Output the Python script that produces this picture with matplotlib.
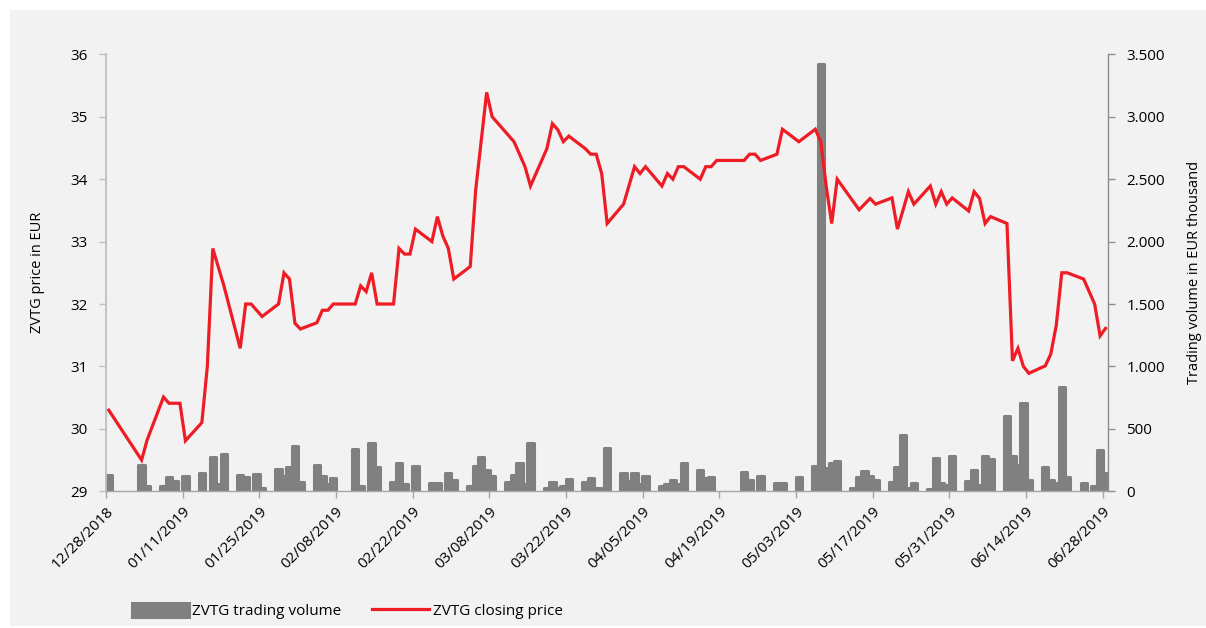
import matplotlib
matplotlib.use("Agg")
import matplotlib.pyplot as plt
import matplotlib.dates as mdates
from matplotlib.patches import Rectangle
from matplotlib.ticker import FuncFormatter
import datetime as dt

plt.rcParams['font.family'] = ['Open Sans', 'DejaVu Sans']

# closing price (EUR)
price_dates = ["2018-12-28", "2019-01-03", "2019-01-04", "2019-01-07", "2019-01-08", "2019-01-10",
               "2019-01-11", "2019-01-14", "2019-01-15", "2019-01-16", "2019-01-18", "2019-01-21",
               "2019-01-22", "2019-01-23", "2019-01-25", "2019-01-28", "2019-01-29", "2019-01-30",
               "2019-01-31", "2019-02-01", "2019-02-04", "2019-02-05", "2019-02-06", "2019-02-07",
               "2019-02-11", "2019-02-12", "2019-02-13", "2019-02-14", "2019-02-15", "2019-02-18",
               "2019-02-19", "2019-02-20", "2019-02-21", "2019-02-22", "2019-02-25", "2019-02-26",
               "2019-02-27", "2019-02-28", "2019-03-01", "2019-03-04", "2019-03-05", "2019-03-07",
               "2019-03-08", "2019-03-12", "2019-03-14", "2019-03-15", "2019-03-18", "2019-03-19",
               "2019-03-20", "2019-03-21", "2019-03-22", "2019-03-25", "2019-03-26", "2019-03-27",
               "2019-03-28", "2019-03-29", "2019-04-01", "2019-04-03", "2019-04-04", "2019-04-05",
               "2019-04-08", "2019-04-09", "2019-04-10", "2019-04-11", "2019-04-12", "2019-04-15",
               "2019-04-16", "2019-04-17", "2019-04-18", "2019-04-23", "2019-04-24", "2019-04-25",
               "2019-04-26", "2019-04-29", "2019-04-30", "2019-05-03", "2019-05-06", "2019-05-07",
               "2019-05-08", "2019-05-09", "2019-05-10", "2019-05-14", "2019-05-16", "2019-05-17",
               "2019-05-20", "2019-05-21", "2019-05-23", "2019-05-24", "2019-05-27", "2019-05-28",
               "2019-05-29", "2019-05-30", "2019-05-31", "2019-06-03", "2019-06-04", "2019-06-05",
               "2019-06-06", "2019-06-07", "2019-06-10", "2019-06-11", "2019-06-12", "2019-06-13",
               "2019-06-14", "2019-06-17", "2019-06-18", "2019-06-19", "2019-06-20", "2019-06-21",
               "2019-06-24", "2019-06-26", "2019-06-27", "2019-06-28"]
price = [30.30, 29.50, 29.82, 30.51, 30.41, 30.41,
         29.81, 30.10, 31.00, 32.89, 32.30, 31.29,
         32.00, 32.00, 31.80, 32.00, 32.50, 32.40,
         31.69, 31.60, 31.70, 31.90, 31.90, 32.00,
         32.00, 32.29, 32.20, 32.50, 32.00, 32.00,
         32.89, 32.80, 32.80, 33.20, 33.00, 33.40,
         33.09, 32.89, 32.40, 32.60, 33.83, 35.39,
         35.00, 34.60, 34.20, 33.89, 34.49, 34.89,
         34.79, 34.60, 34.69, 34.49, 34.40, 34.40,
         34.09, 33.29, 33.60, 34.20, 34.09, 34.20,
         33.89, 34.09, 34.00, 34.20, 34.20, 34.00,
         34.20, 34.20, 34.30, 34.30, 34.40, 34.40,
         34.30, 34.40, 34.80, 34.60, 34.80, 34.60,
         33.88, 33.29, 34.00, 33.51, 33.69, 33.60,
         33.70, 33.20, 33.80, 33.60, 33.89, 33.60,
         33.80, 33.60, 33.70, 33.49, 33.80, 33.69,
         33.29, 33.40, 33.29, 31.09, 31.29, 31.00,
         30.89, 31.01, 31.20, 31.66, 32.50, 32.50,
         32.40, 32.00, 31.49, 31.61]

# trading volume (EUR thousand)
vol_dates = ["2018-12-28", "2019-01-03", "2019-01-04", "2019-01-07", "2019-01-08", "2019-01-09",
             "2019-01-11", "2019-01-14", "2019-01-16", "2019-01-17", "2019-01-18", "2019-01-21",
             "2019-01-22", "2019-01-24", "2019-01-25", "2019-01-28", "2019-01-29", "2019-01-30",
             "2019-01-31", "2019-02-01", "2019-02-04", "2019-02-05", "2019-02-06", "2019-02-07",
             "2019-02-11", "2019-02-12", "2019-02-14", "2019-02-15", "2019-02-18", "2019-02-19",
             "2019-02-20", "2019-02-22", "2019-02-25", "2019-02-26", "2019-02-28", "2019-03-01",
             "2019-03-04", "2019-03-05", "2019-03-06", "2019-03-07", "2019-03-08", "2019-03-11",
             "2019-03-12", "2019-03-13", "2019-03-14", "2019-03-15", "2019-03-18", "2019-03-19",
             "2019-03-20", "2019-03-21", "2019-03-22", "2019-03-25", "2019-03-26", "2019-03-27",
             "2019-03-28", "2019-03-29", "2019-04-01", "2019-04-02", "2019-04-03", "2019-04-04",
             "2019-04-05", "2019-04-08", "2019-04-09", "2019-04-10", "2019-04-11", "2019-04-12",
             "2019-04-15", "2019-04-16", "2019-04-17", "2019-04-23", "2019-04-24", "2019-04-26",
             "2019-04-29", "2019-04-30", "2019-05-03", "2019-05-06", "2019-05-07", "2019-05-08",
             "2019-05-09", "2019-05-10", "2019-05-13", "2019-05-14", "2019-05-15", "2019-05-16",
             "2019-05-17", "2019-05-20", "2019-05-21", "2019-05-22", "2019-05-23", "2019-05-24",
             "2019-05-27", "2019-05-28", "2019-05-29", "2019-05-30", "2019-05-31", "2019-06-03",
             "2019-06-04", "2019-06-05", "2019-06-06", "2019-06-07", "2019-06-10", "2019-06-11",
             "2019-06-12", "2019-06-13", "2019-06-14", "2019-06-17", "2019-06-18", "2019-06-19",
             "2019-06-20", "2019-06-21", "2019-06-24", "2019-06-26", "2019-06-27", "2019-06-28"]
volume = [130, 210, 42, 40, 112, 85,
          125, 144, 277, 60, 299, 130,
          117, 139, 30, 178, 120, 197,
          365, 77, 210, 122, 60, 109,
          336, 40, 384, 192, 77, 224,
          60, 205, 69, 69, 144, 90,
          40, 205, 272, 171, 122, 77,
          130, 224, 60, 384, 25, 77,
          30, 40, 96, 77, 104, 30,
          30, 344, 144, 80, 149, 60,
          125, 40, 60, 90, 60, 229,
          171, 104, 117, 152, 90, 122,
          63, 63, 117, 203, 3420, 190,
          225, 245, 30, 117, 165, 122,
          90, 77, 192, 451, 30, 63,
          20, 269, 70, 50, 283, 85,
          171, 50, 283, 256, 603, 283,
          210, 709, 90, 197, 90, 70,
          838, 117, 63, 40, 330, 149]

start = dt.date(2018, 12, 28)
end = dt.date(2019, 6, 29)
tick_dates = [start + dt.timedelta(days=14 * k) for k in range(14)]

# points sit in the middle of their day slot
px = [mdates.datestr2num(d) + 0.5 for d in price_dates]
vx = [mdates.datestr2num(d) + 0.5 for d in vol_dates]

fig = plt.figure(figsize=(12.06, 6.28), dpi=100)
fig.patch.set_facecolor('white')
fig.patches.append(Rectangle((10 / 1206, 0.003), 1 - 10 / 1206, 1 - 10 / 628 - 0.003,
                             transform=fig.transFigure, facecolor='#f2f2f2',
                             edgecolor='none', zorder=-10))

ax = fig.add_axes([0.0879, 0.2177, 0.9190 - 0.0879, 0.9135 - 0.2177])
ax2 = ax.twinx()
ax.set_zorder(ax2.get_zorder() + 1)
ax.patch.set_visible(False)
ax2.patch.set_visible(False)

bars = ax2.bar(vx, volume, width=1.15, color='#808080', edgecolor='#808080',
               linewidth=2.2, label='ZVTG trading volume')
for b in bars:
    b.set_joinstyle('round')
ax.plot(px, price, color='#ee1c25', lw=2.3, solid_joinstyle='miter',
        label='ZVTG closing price')

ax.set_xlim(mdates.date2num(start), mdates.date2num(end))
ax.set_ylim(29, 36)
ax2.set_ylim(0, 3500)
ax.set_yticks(range(29, 37))
ax2.set_yticks(range(0, 3501, 500))
ax2.yaxis.set_major_formatter(FuncFormatter(lambda v, p: f"{int(v):,}".replace(',', '.')))

ax.set_xticks([mdates.date2num(d) for d in tick_dates])
ax.xaxis.set_major_formatter(mdates.DateFormatter('%m/%d/%Y'))
for lbl in ax.get_xticklabels():
    lbl.set_rotation(45)
    lbl.set_ha('right')
    lbl.set_rotation_mode('anchor')

for a in (ax, ax2):
    a.spines['top'].set_visible(False)
ax.spines['right'].set_visible(False)
ax2.spines['left'].set_visible(False)
ax2.spines['bottom'].set_visible(False)
ax.spines['left'].set_color('#bfbfbf')
ax.spines['left'].set_linewidth(1.3)
ax.spines['bottom'].set_color('#a6a6a6')
ax.spines['bottom'].set_linewidth(1.0)
ax2.spines['right'].set_color('#8c8c8c')
ax2.spines['right'].set_linewidth(1.0)

ax.tick_params(axis='y', direction='out', length=5, width=1, color='#bfbfbf',
               labelsize=11, pad=8, labelcolor='black')
ax.tick_params(axis='x', direction='out', length=5, width=1, color='#a6a6a6',
               labelsize=11, pad=4, labelcolor='black')
ax2.tick_params(axis='y', direction='out', length=5, width=1, color='#8c8c8c',
                labelsize=11, pad=8, labelcolor='black')

ax.set_ylabel('ZVTG price in EUR', fontsize=10.5, labelpad=18)
ax2.set_ylabel('Trading volume in EUR thousand', fontsize=10.5, labelpad=16)

h1, l1 = ax2.get_legend_handles_labels()
h2, l2 = ax.get_legend_handles_labels()
fig.legend(h1 + h2, l1 + l2, loc='center', bbox_to_anchor=(0.288, 0.027), ncol=2,
           frameon=False, fontsize=11, handlelength=3.7, handleheight=1.0,
           handletextpad=0.25, columnspacing=2.0)

fig.savefig('out.png', dpi=100)
